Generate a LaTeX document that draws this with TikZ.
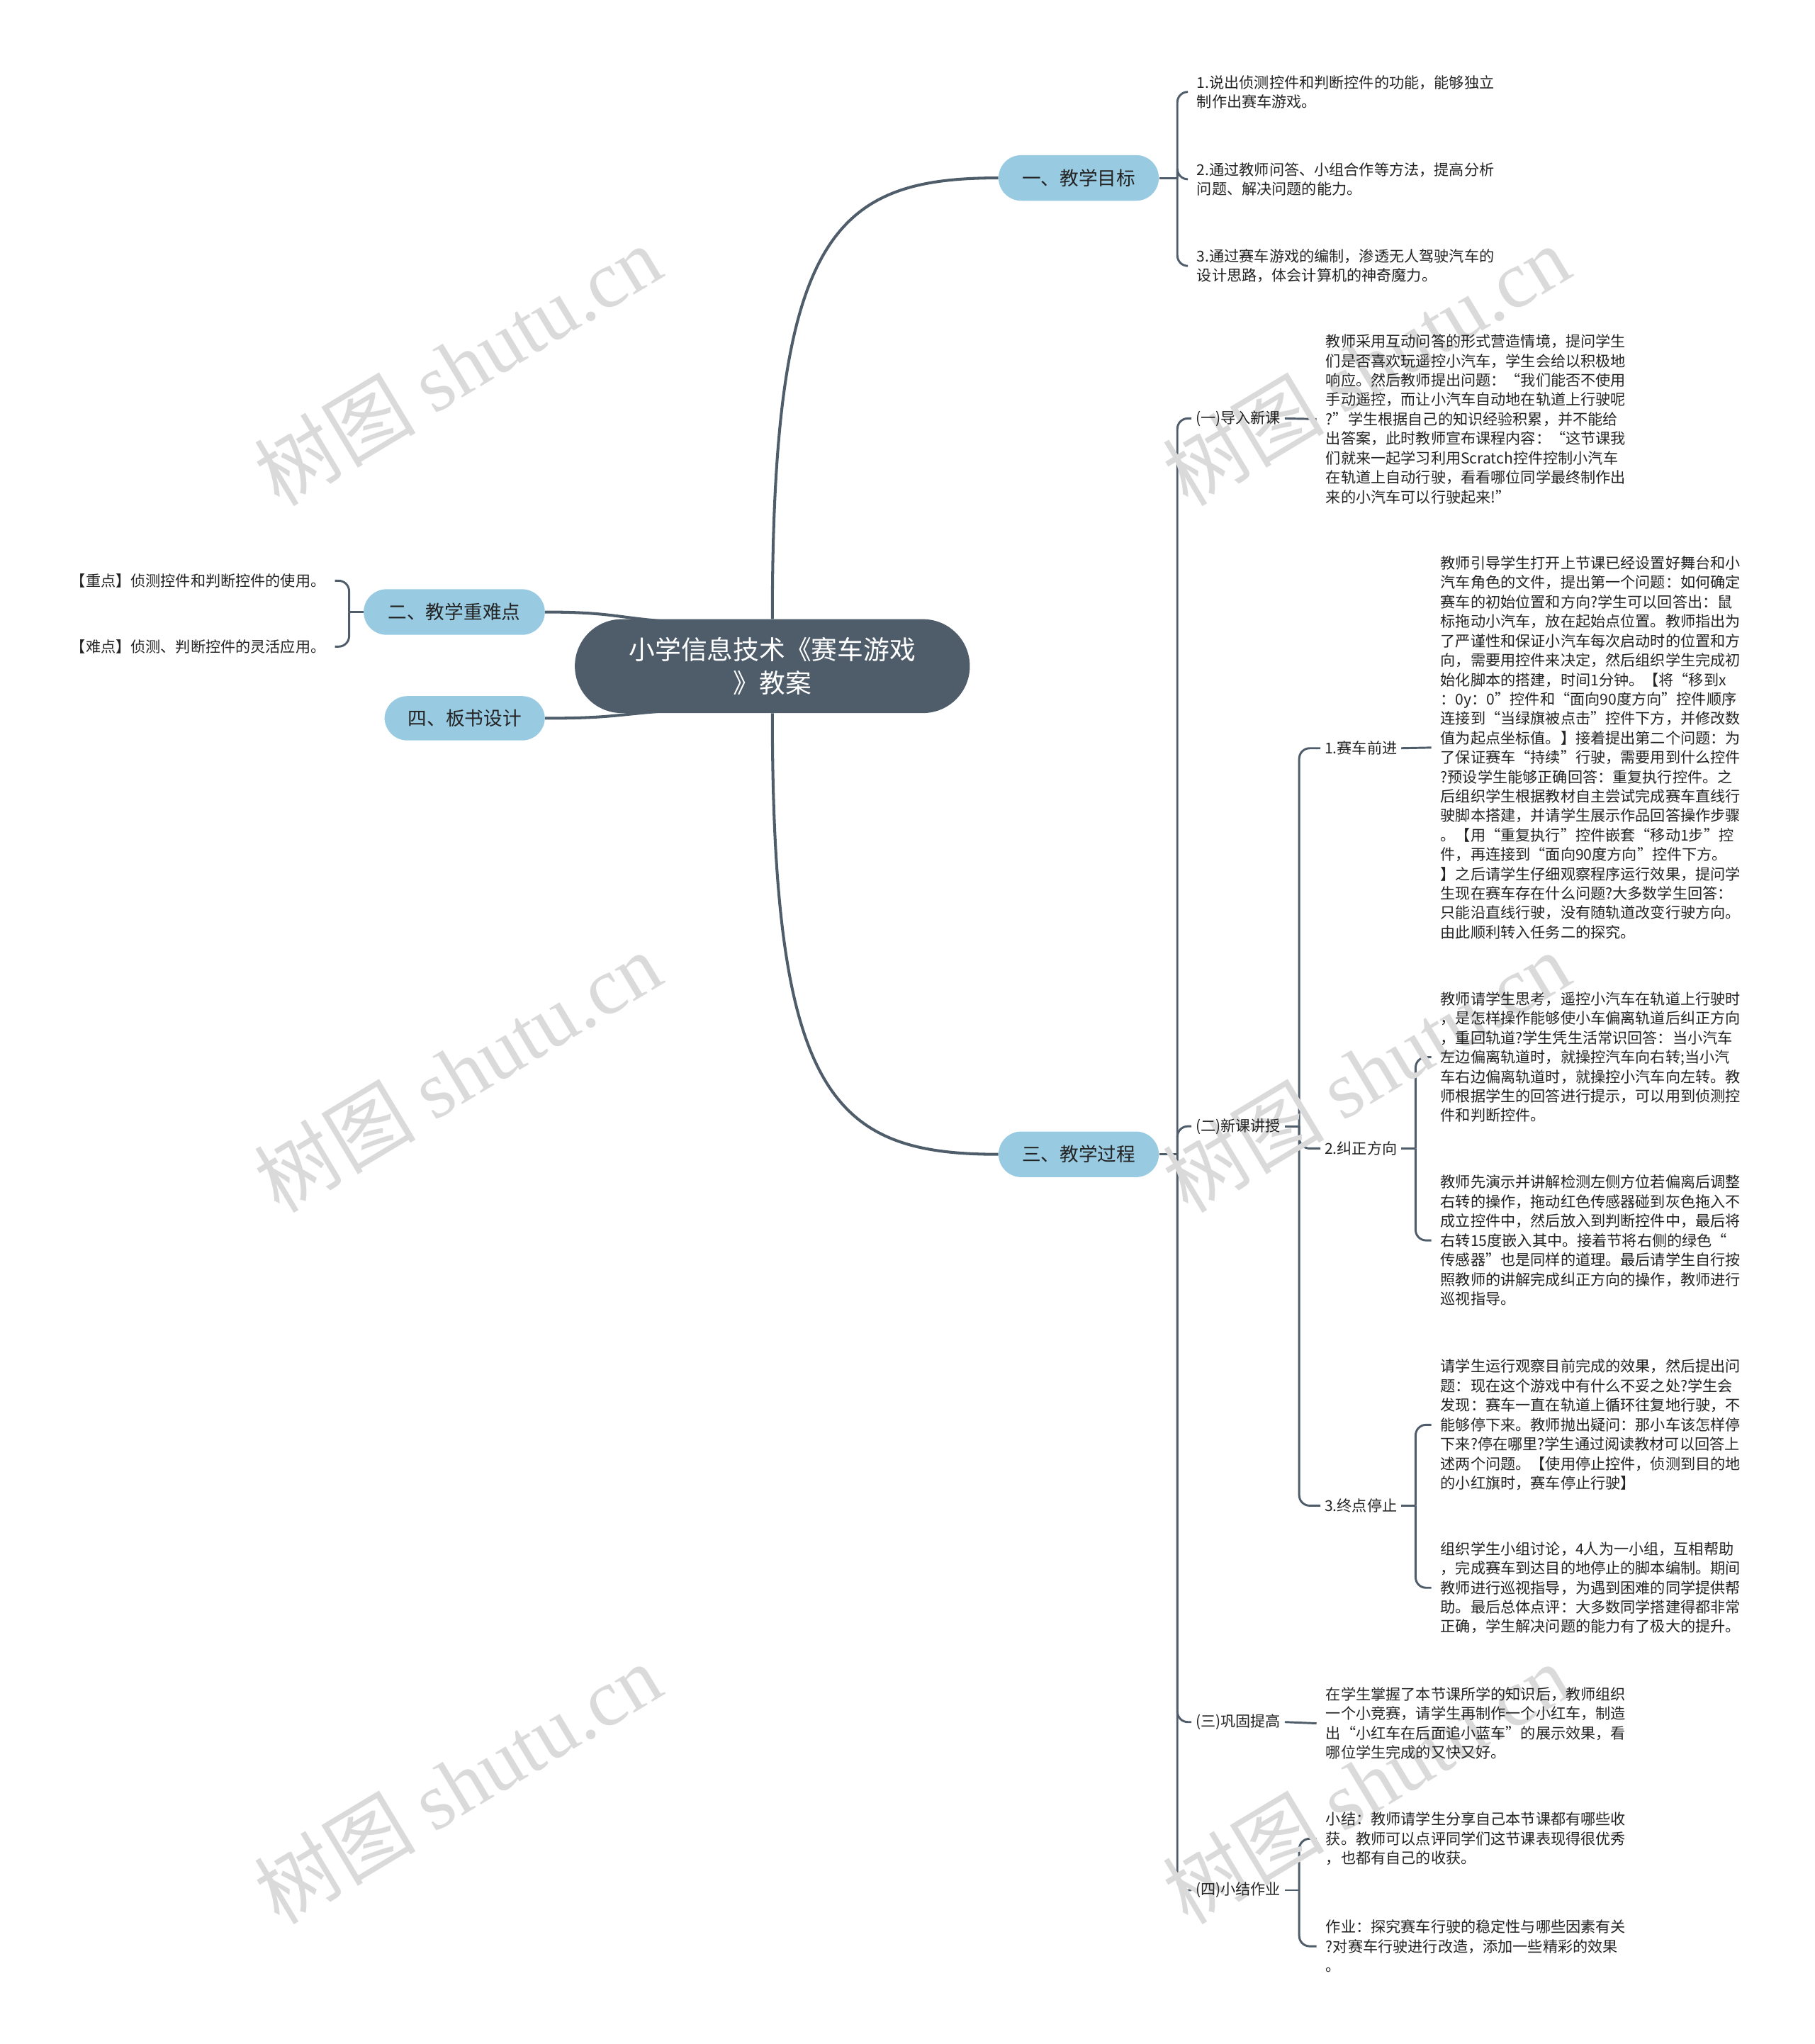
\documentclass[tikz,border=0pt]{standalone}
\usepackage{fontspec}
\setmainfont{Noto Sans CJK SC}
\newfontfamily\wmlatin{Liberation Serif}
\usetikzlibrary{positioning}
\pgfdeclarelayer{bg}
\pgfsetlayers{bg,main}

\definecolor{slate}{RGB}{79,93,107}
\definecolor{topicblue}{RGB}{152,203,226}
\definecolor{txtdark}{RGB}{35,35,35}
\definecolor{wmgray}{RGB}{218,218,218}

\tikzset{
  rootbox/.style={fill=slate, rounded corners=36pt, minimum width=303pt, minimum height=72pt,
    text=white, align=center, font=\fontsize{20}{25.5}\selectfont},
  topicbox/.style={fill=topicblue, rounded corners=17.5pt, minimum height=35pt, inner sep=0pt,
    text=txtdark, font=\fontsize{14.5}{18}\selectfont},
  sublabel/.style={anchor=west, inner sep=3pt, text=txtdark, font=\fontsize{11.5}{15}\selectfont},
  leaf/.style={anchor=west, inner xsep=7pt, inner ysep=0pt, align=left, text=txtdark,
    font=\fontsize{11.5}{14.9}\selectfont},
  leafr/.style={leaf, anchor=east},
  branch/.style={draw=slate, line width=1.6pt, rounded corners=8pt},
  mainline/.style={draw=slate, line width=2.2pt},
  wmark/.style={text=wmgray, rotate=31, inner sep=0pt, font=\fontsize{62}{62}\selectfont}
}

\begin{document}
\begin{tikzpicture}[x=1pt,y=-1pt]
\useasboundingbox (0,0) rectangle (1392,1568);

% watermarks
\foreach \wx/\wy [count=\i] in {351/280, 351/822, 351/1368, 1048/280, 1048/822, 1048/1368}
  \node[wmark] (wm\i) at (\wx,\wy) {树图 {\wmlatin shutu.cn}};

% Root
\node[rootbox] (root) at (592.5,511) {小学信息技术《赛车游戏\\》教案};

% Topics
\node[topicbox, minimum width=123pt] (goal) at (827.5,136.5) {一、教学目标};
\node[topicbox, minimum width=139pt] (keys) at (348.5,469.5) {二、教学重难点};
\node[topicbox, minimum width=123pt] (proc) at (827.5,885.5) {三、教学过程};
\node[topicbox, minimum width=123pt, minimum height=34pt] (board) at (356.5,551) {四、板书设计};

% 一、教学目标
\node[leaf] (g1) at (911,70.5) {1.说出侦测控件和判断控件的功能，能够独立\\制作出赛车游戏。};
\node[leaf] (g2) at (911,137.5) {2.通过教师问答、小组合作等方法，提高分析\\问题、解决问题的能力。};
\node[leaf] (g3) at (911,204) {3.通过赛车游戏的编制，渗透无人驾驶汽车的\\设计思路，体会计算机的神奇魔力。};

% 二、教学重难点
\node[leafr] (k1) at (257,445.5) {【重点】侦测控件和判断控件的使用。};
\node[leafr] (k2) at (257,496) {【难点】侦测、判断控件的灵活应用。};

% 三、教学过程
\node[sublabel] (p1) at (914,321) {(一)导入新课};
\node[sublabel] (p2) at (914,864) {(二)新课讲授};
\node[sublabel] (p3) at (914,1321) {(三)巩固提高};
\node[sublabel] (p4) at (914,1450) {(四)小结作业};

\node[leaf] (a1) at (1010,321.5) {教师采用互动问答的形式营造情境，提问学生\\们是否喜欢玩遥控小汽车，学生会给以积极地\\响应。然后教师提出问题：“我们能否不使用\\手动遥控，而让小汽车自动地在轨道上行驶呢\\?”学生根据自己的知识经验积累，并不能给\\出答案，此时教师宣布课程内容：“这节课我\\们就来一起学习利用Scratch控件控制小汽车\\在轨道上自动行驶，看看哪位同学最终制作出\\来的小汽车可以行驶起来!”};

\node[sublabel] (s1) at (1013,574) {1.赛车前进};
\node[sublabel] (s2) at (1013,881) {2.纠正方向};
\node[sublabel] (s3) at (1013,1155) {3.终点停止};

\node[leaf] (b1) at (1098,573.5) {教师引导学生打开上节课已经设置好舞台和小\\汽车角色的文件，提出第一个问题：如何确定\\赛车的初始位置和方向?学生可以回答出：鼠\\标拖动小汽车，放在起始点位置。教师指出为\\了严谨性和保证小汽车每次启动时的位置和方\\向，需要用控件来决定，然后组织学生完成初\\始化脚本的搭建，时间1分钟。【将“移到x\\：0y：0”控件和“面向90度方向”控件顺序\\连接到“当绿旗被点击”控件下方，并修改数\\值为起点坐标值。】接着提出第二个问题：为\\了保证赛车“持续”行驶，需要用到什么控件\\?预设学生能够正确回答：重复执行控件。之\\后组织学生根据教材自主尝试完成赛车直线行\\驶脚本搭建，并请学生展示作品回答操作步骤\\。【用“重复执行”控件嵌套“移动1步”控\\件，再连接到“面向90度方向”控件下方。\\】之后请学生仔细观察程序运行效果，提问学\\生现在赛车存在什么问题?大多数学生回答：\\只能沿直线行驶，没有随轨道改变行驶方向。\\由此顺利转入任务二的探究。};

\node[leaf] (b2a) at (1098,811) {教师请学生思考，遥控小汽车在轨道上行驶时\\，是怎样操作能够使小车偏离轨道后纠正方向\\，重回轨道?学生凭生活常识回答：当小汽车\\左边偏离轨道时，就操控汽车向右转;当小汽\\车右边偏离轨道时，就操控小汽车向左转。教\\师根据学生的回答进行提示，可以用到侦测控\\件和判断控件。};
\node[leaf] (b2b) at (1098,951.5) {教师先演示并讲解检测左侧方位若偏离后调整\\右转的操作，拖动红色传感器碰到灰色拖入不\\成立控件中，然后放入到判断控件中，最后将\\右转15度嵌入其中。接着节将右侧的绿色“\\传感器”也是同样的道理。最后请学生自行按\\照教师的讲解完成纠正方向的操作，教师进行\\巡视指导。};

\node[leaf] (b3a) at (1098,1093) {请学生运行观察目前完成的效果，然后提出问\\题：现在这个游戏中有什么不妥之处?学生会\\发现：赛车一直在轨道上循环往复地行驶，不\\能够停下来。教师抛出疑问：那小车该怎样停\\下来?停在哪里?学生通过阅读教材可以回答上\\述两个问题。【使用停止控件，侦测到目的地\\的小红旗时，赛车停止行驶】};
\node[leaf] (b3b) at (1098,1218) {组织学生小组讨论，4人为一小组，互相帮助\\，完成赛车到达目的地停止的脚本编制。期间\\教师进行巡视指导，为遇到困难的同学提供帮\\助。最后总体点评：大多数同学搭建得都非常\\正确，学生解决问题的能力有了极大的提升。};

\node[leaf] (c1) at (1010,1322) {在学生掌握了本节课所学的知识后，教师组织\\一个小竞赛，请学生再制作一个小红车，制造\\出“小红车在后面追小蓝车”的展示效果，看\\哪位学生完成的又快又好。};

\node[leaf] (d1) at (1010,1410.5) {小结：教师请学生分享自己本节课都有哪些收\\获。教师可以点评同学们这节课表现得很优秀\\，也都有自己的收获。};
\node[leaf] (d2) at (1010,1493) {作业：探究赛车行驶的稳定性与哪些因素有关\\?对赛车行驶进行改造，添加一些精彩的效果\\。};

% junctions
\coordinate (gj) at ([xshift=14pt]goal.east);
\coordinate (kj) at ([xshift=-11pt]keys.west);
\coordinate (pj) at ([xshift=14pt]proc.east);
\coordinate (p2j) at ([xshift=11pt]p2.east);
\coordinate (p4j) at ([xshift=11pt]p4.east);
\coordinate (s2j) at ([xshift=11pt]s2.east);
\coordinate (s3j) at ([xshift=11pt]s3.east);

\begin{pgfonlayer}{bg}
% root to topics
\draw[mainline] (root.north) .. controls +(0,-295) and +(-126,0) .. (goal.west);
\draw[mainline] (root.south) .. controls +(0,295) and +(-126,0) .. (proc.west);
\draw[mainline] (keys.east) .. controls +(50,0) and +(-40,-3) .. ([xshift=-80pt,yshift=-2pt]root.north);
\draw[mainline] (board.east) .. controls +(50,0) and +(-40,3) .. ([xshift=-80pt,yshift=2pt]root.south);

% branches
\draw[branch] (goal.east) -- (gj);
\foreach \c in {g1,g2,g3} \draw[branch] (gj) |- (\c.west);
\draw[branch] (keys.west) -- (kj);
\foreach \c in {k1,k2} \draw[branch] (kj) |- (\c.east);
\draw[branch] (proc.east) -- (pj);
\foreach \c in {p1,p2,p3,p4} \draw[branch] (pj) |- (\c.west);
\draw[branch] (p1.east) -- (a1.west);
\draw[branch] (p2.east) -- (p2j);
\foreach \c in {s1,s2,s3} \draw[branch] (p2j) |- (\c.west);
\draw[branch] (s1.east) -- (b1.west);
\draw[branch] (s2.east) -- (s2j);
\foreach \c in {b2a,b2b} \draw[branch] (s2j) |- (\c.west);
\draw[branch] (s3.east) -- (s3j);
\foreach \c in {b3a,b3b} \draw[branch] (s3j) |- (\c.west);
\draw[branch] (p3.east) -- (c1.west);
\draw[branch] (p4.east) -- (p4j);
\foreach \c in {d1,d2} \draw[branch] (p4j) |- (\c.west);
\end{pgfonlayer}

\end{tikzpicture}
\end{document}
